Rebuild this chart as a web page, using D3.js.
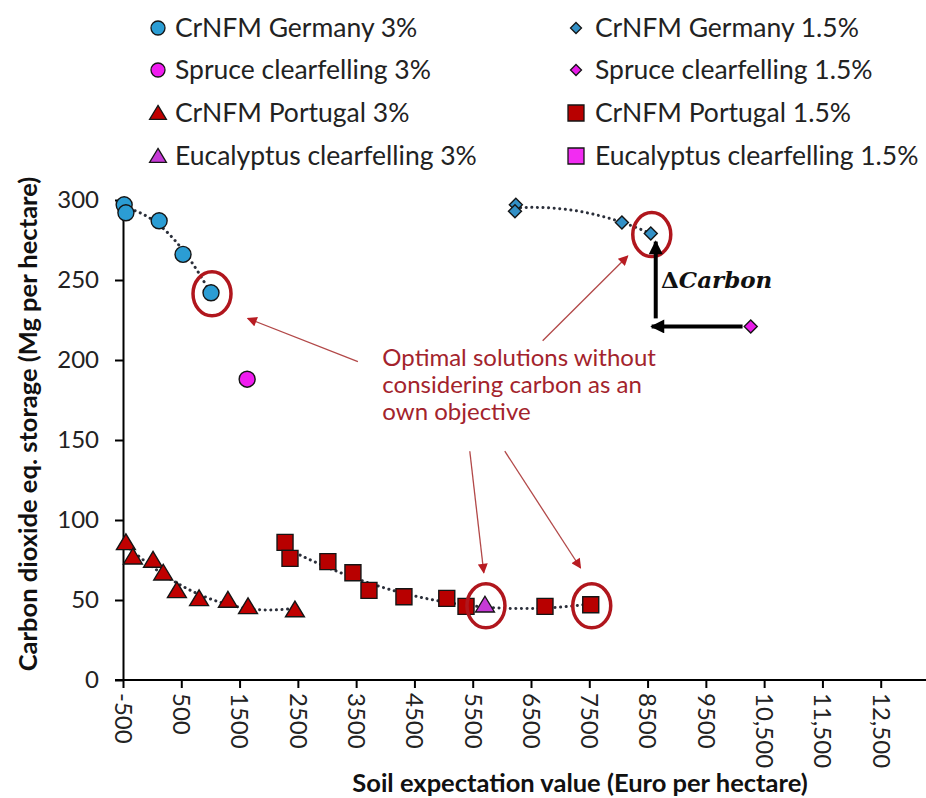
<!DOCTYPE html>
<html>
<head>
<meta charset="utf-8">
<script src="https://cdn.jsdelivr.net/npm/d3@7"></script>
<style>
  html, body { margin: 0; padding: 0; background: #fff; }
  svg { display: block; font-family: Lato, "Open Sans", sans-serif; }
</style>
</head>
<body>
<div id="chart"></div>
<script>
// values: [soil expectation value, CO2 storage]
const germany3    = [[-480, 297], [-450, 292], [120, 287], [530, 266], [1010, 242]];
const spruce3     = [[1630, 188]];
const portugal3   = [[-450, 86], [-330, 77], [15, 75], [190, 67], [425, 56], [805, 51], [1300, 50], [1645, 46], [2450, 44]];
const eucalyptus3 = [[5710, 47]];
const germany15   = [[6240, 297], [6225, 293], [8060, 286], [8555, 279]];
const spruce15    = [[10270, 221]];
const portugal15  = [[2280, 86], [2365, 76], [3015, 74], [3445, 67], [3720, 56], [4320, 52], [5055, 51], [5385, 46], [6740, 46], [7525, 47]];
const eucalyptus15 = [];

const xTicks = [-500, 500, 1500, 2500, 3500, 4500, 5500, 6500, 7500, 8500, 9500, 10500, 11500, 12500, 13500];
const xTickLabels = ['-500', '500', '1500', '2500', '3500', '4500', '5500', '6500', '7500', '8500', '9500', '10,500', '11,500', '12,500', '13,500'];
const yTicks = [0, 50, 100, 150, 200, 250, 300];

// optimal solutions (series key, point index) circled in red
const optimal = [['germany3', 4], ['germany15', 3], ['eucalyptus3', 0], ['portugal15', 9]];

const series = [
  { key: 'germany3',     label: 'CrNFM Germany 3%',             data: germany3,     shape: 'circle',   fill: '#2b9dd4', trend: true },
  { key: 'germany15',    label: 'CrNFM Germany 1.5%',           data: germany15,    shape: 'diamond',  fill: '#3290c6', trend: true },
  { key: 'spruce3',      label: 'Spruce clearfelling 3%',       data: spruce3,      shape: 'circle',   fill: '#f01cf0' },
  { key: 'spruce15',     label: 'Spruce clearfelling 1.5%',     data: spruce15,     shape: 'diamond',  fill: '#e81ce8' },
  { key: 'portugal3',    label: 'CrNFM Portugal 3%',            data: portugal3,    shape: 'triangle', fill: '#c00000', trend: true },
  { key: 'portugal15',   label: 'CrNFM Portugal 1.5%',          data: portugal15,   shape: 'square',   fill: '#b80000', trend: true },
  { key: 'eucalyptus3',  label: 'Eucalyptus clearfelling 3%',   data: eucalyptus3,  shape: 'triangle', fill: '#c63ad6' },
  { key: 'eucalyptus15', label: 'Eucalyptus clearfelling 1.5%', data: eucalyptus15, shape: 'square',   fill: '#f22cf2' }
];

const width = 926, height = 798;
const svg = d3.select('#chart').append('svg')
  .attr('width', width).attr('height', height);

const x = d3.scaleLinear().domain([-500, 13500]).range([123, 939]);
const y = d3.scaleLinear().domain([0, 300]).range([680, 200]);

// marker shapes, s = half size
function shapePath(shape, s){
  const p = d3.path();
  if (shape === 'circle'){ p.arc(0, 0, s, 0, 2*Math.PI); }
  else if (shape === 'diamond'){ p.moveTo(0,-s); p.lineTo(s,0); p.lineTo(0,s); p.lineTo(-s,0); p.closePath(); }
  else if (shape === 'triangle'){ p.moveTo(0,-s*0.95); p.lineTo(s*1.05,s*0.8); p.lineTo(-s*1.05,s*0.8); p.closePath(); }
  else { p.rect(-s,-s,2*s,2*s); }
  return p.toString();
}
const plotSize = { circle: 8, diamond: 6.5, triangle: 9, square: 8 };
const legendSize = { circle: 7, diamond: 5.5, triangle: 8, square: 8 };

// arrow markers
const defs = svg.append('defs');
defs.append('marker').attr('id', 'headRed')
  .attr('viewBox', '0 0 10 10').attr('refX', 9).attr('refY', 5)
  .attr('markerWidth', 12).attr('markerHeight', 10).attr('markerUnits', 'userSpaceOnUse')
  .attr('orient', 'auto')
  .append('path').attr('d', 'M0,0L10,5L0,10Z').attr('fill', '#b81c22');
defs.append('marker').attr('id', 'headBlack')
  .attr('viewBox', '0 0 10 10').attr('refX', 9).attr('refY', 5)
  .attr('markerWidth', 16).attr('markerHeight', 14).attr('markerUnits', 'userSpaceOnUse')
  .attr('orient', 'auto')
  .append('path').attr('d', 'M0,0L10,5L0,10Z').attr('fill', '#000');

// axes
const xAxis = d3.axisBottom(x).tickValues(xTicks)
  .tickFormat((d, i) => xTickLabels[i]).tickSize(8).tickSizeOuter(0);
const gx = svg.append('g').attr('transform', `translate(0,${y(0)})`).call(xAxis);
gx.select('.domain').attr('stroke', '#000').attr('stroke-width', 2)
  .attr('d', `M${x(-500)-8},0H${width+20}`);
gx.selectAll('.tick line').attr('stroke', '#000').attr('stroke-width', 2);
gx.selectAll('.tick text')
  .attr('transform', 'rotate(90)')
  .attr('x', 13).attr('y', 0).attr('dy', '0.36em')
  .attr('text-anchor', 'start')
  .attr('font-family', 'Lato, sans-serif').attr('font-size', 24).attr('fill', '#222');

const yAxis = d3.axisLeft(y).tickValues(yTicks).tickSize(8).tickSizeOuter(0).tickPadding(16);
const gy = svg.append('g').attr('transform', `translate(${x(-500)},0)`).call(yAxis);
gy.select('.domain').attr('stroke', '#000').attr('stroke-width', 2);
gy.selectAll('.tick line').attr('stroke', '#000').attr('stroke-width', 2);
gy.selectAll('.tick text')
  .attr('font-family', 'Lato, sans-serif').attr('font-size', 24).attr('fill', '#222');

svg.append('text')
  .attr('transform', 'translate(28,424) rotate(-90)')
  .attr('text-anchor', 'middle').attr('dy', '0.35em')
  .attr('font-weight', 700).attr('font-size', 25.5).attr('fill', '#111')
  .text('Carbon dioxide eq. storage (Mg per hectare)');

svg.append('text')
  .attr('x', 580).attr('y', 792)
  .attr('text-anchor', 'middle')
  .attr('font-weight', 700).attr('font-size', 25.5).attr('fill', '#111')
  .text('Soil expectation value (Euro per hectare)');

// quadratic least-squares trend line
function quadFit(pts){
  let s = [0,0,0,0,0], t = [0,0,0];
  pts.forEach(([px, py]) => {
    const u = px/1000;
    for (let k = 0; k < 5; k++) s[k] += Math.pow(u, k);
    for (let k = 0; k < 3; k++) t[k] += py*Math.pow(u, k);
  });
  const M = [[s[0],s[1],s[2],t[0]],[s[1],s[2],s[3],t[1]],[s[2],s[3],s[4],t[2]]];
  for (let i = 0; i < 3; i++){
    let piv = i;
    for (let r = i+1; r < 3; r++) if (Math.abs(M[r][i]) > Math.abs(M[piv][i])) piv = r;
    [M[i], M[piv]] = [M[piv], M[i]];
    for (let r = 0; r < 3; r++){
      if (r === i) continue;
      const f = M[r][i]/M[i][i];
      for (let c = i; c < 4; c++) M[r][c] -= f*M[i][c];
    }
  }
  const c = M.map((row, i) => row[3]/row[i]);
  return v => { const u = v/1000; return c[0] + c[1]*u + c[2]*u*u; };
}

const trendG = svg.append('g');
const line = d3.line().x(d => x(d[0])).y(d => y(d[1]));
series.filter(s => s.trend).forEach(s => {
  const f = quadFit(s.data);
  const [x0, x1] = d3.extent(s.data, d => d[0]);
  const pts = d3.range(0, 41).map(i => { const v = x0 + (x1 - x0)*i/40; return [v, f(v)]; });
  trendG.append('path').attr('d', line(pts))
    .attr('fill', 'none').attr('stroke', '#2b2f3a').attr('stroke-width', 3)
    .attr('stroke-linecap', 'round').attr('stroke-dasharray', '0.1 5.5');
});

// points
const markG = svg.append('g');
series.forEach(s => {
  markG.selectAll(null).data(s.data).join('path')
    .attr('transform', d => `translate(${x(d[0])},${y(d[1])})`)
    .attr('d', shapePath(s.shape, plotSize[s.shape]))
    .attr('fill', s.fill).attr('stroke', '#151515').attr('stroke-width', 1.4);
});

// annotations
const annG = svg.append('g');
const byKey = Object.fromEntries(series.map(s => [s.key, s]));
optimal.forEach(([k, i]) => {
  const d = byKey[k].data[i];
  annG.append('ellipse')
    .attr('cx', x(d[0]) + 1).attr('cy', y(d[1]) + 1)
    .attr('rx', 19).attr('ry', 22)
    .attr('fill', 'none').attr('stroke', '#b0161d').attr('stroke-width', 3.5);
});

// thin arrows from the note to the circled solutions (data units)
const noteArrows = [
  [[3530, 199], [1640, 226]],
  [[6700, 212], [8160, 265]],
  [[5450, 143], [5690, 67]],
  [[6050, 143], [7350, 70]]
];
noteArrows.forEach(([a, b]) => {
  annG.append('line')
    .attr('x1', x(a[0])).attr('y1', y(a[1])).attr('x2', x(b[0])).attr('y2', y(b[1]))
    .attr('stroke', '#b24848').attr('stroke-width', 1.3)
    .attr('marker-end', 'url(#headRed)');
});

const noteLines = ['Optimal solutions without', 'considering carbon as an', 'own objective'];
annG.append('text')
  .attr('x', x(3950)).attr('y', y(196))
  .attr('font-size', 24).attr('fill', '#a3232c')
  .selectAll('tspan').data(noteLines).join('tspan')
  .attr('x', x(3950)).attr('dy', (d, i) => i ? 27 : 0)
  .text(d => d);

// delta carbon arrows
annG.append('line')
  .attr('x1', x(8640)).attr('y1', y(226)).attr('x2', x(8640)).attr('y2', y(274))
  .attr('stroke', '#000').attr('stroke-width', 4).attr('marker-end', 'url(#headBlack)');
annG.append('line')
  .attr('x1', x(10130)).attr('y1', y(221)).attr('x2', x(8570)).attr('y2', y(221))
  .attr('stroke', '#000').attr('stroke-width', 4).attr('marker-end', 'url(#headBlack)');
const dc = annG.append('text')
  .attr('x', x(8730)).attr('y', y(245))
  .attr('font-family', '"DejaVu Serif", "Liberation Serif", serif')
  .attr('font-size', 23).attr('font-weight', 700).attr('fill', '#111');
dc.append('tspan').text('\u0394');
dc.append('tspan').attr('font-style', 'italic').text('Carbon');

// legend, two columns
const legendG = svg.append('g');
const legendCols = [158, 576];
const legendRows = [28, 70, 113, 156];
series.forEach((s, i) => {
  const col = i % 2, row = Math.floor(i / 2);
  const g = legendG.append('g')
    .attr('transform', `translate(${legendCols[col]},${legendRows[row]})`);
  g.append('path').attr('d', shapePath(s.shape, legendSize[s.shape]))
    .attr('fill', s.fill).attr('stroke', '#151515').attr('stroke-width', 1.3);
  g.append('text').attr('x', col ? 19 : 17).attr('dy', '0.35em')
    .attr('font-size', 26.5).attr('fill', '#222').text(s.label);
});
</script>
</body>
</html>
